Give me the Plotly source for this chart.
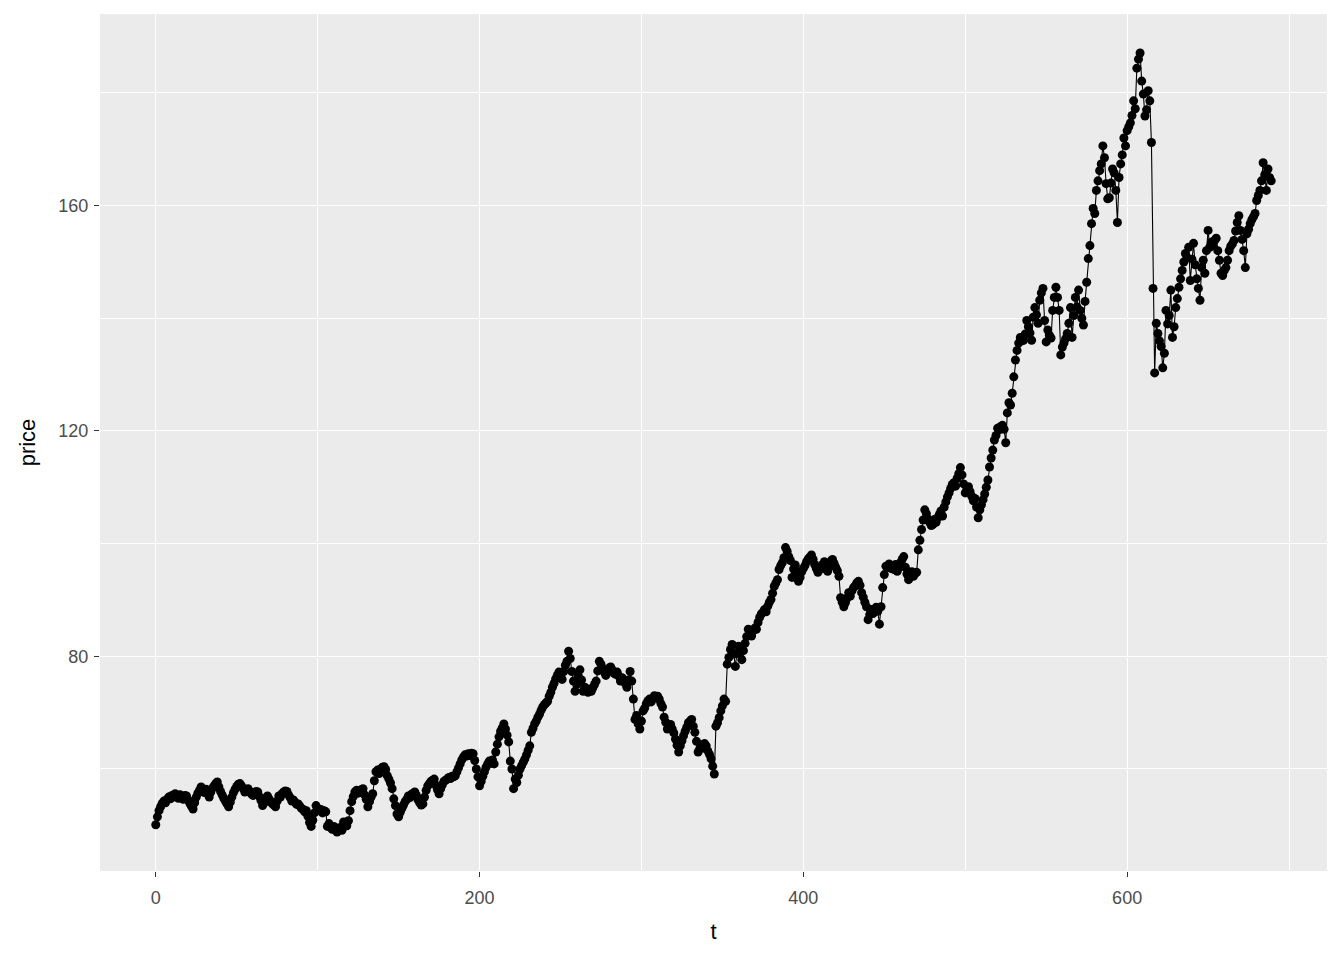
import plotly.graph_objects as go

# price series (one value per t = 0..689)
price = [
    50.1, 51.5, 52.6, 53.3, 53.9, 54.3, 54.0, 54.6, 55.0, 54.7,
    55.3, 55.0, 55.6, 55.2, 54.8, 55.4, 55.0, 54.6, 55.3, 55.2,
    54.5, 53.9, 53.4, 52.9, 54.0, 55.0, 55.7, 56.2, 56.8, 56.3,
    55.8, 56.4, 55.6, 55.0, 55.9, 56.6, 57.0, 57.4, 57.7, 56.8,
    56.0, 55.4, 54.8, 54.3, 53.8, 53.3, 54.1, 55.0, 55.8, 56.4,
    56.9, 57.3, 57.4, 57.0, 56.5, 55.9, 56.3, 56.5, 56.0, 55.6,
    55.3, 55.7, 56.0, 55.9, 55.1, 54.4, 53.5, 54.0, 54.8, 55.2,
    54.7, 54.2, 53.8, 53.6, 53.3, 54.3, 55.2, 55.0, 55.6, 55.9,
    56.1, 56.0, 55.4, 54.9, 54.3, 54.5, 54.1, 53.7, 53.8, 53.4,
    53.0, 52.8, 52.4, 52.6, 51.6, 50.5, 49.8, 50.9, 52.2, 53.5,
    53.0, 52.6, 52.8, 52.2, 52.6, 52.4, 49.8, 50.3, 49.6, 49.3,
    49.8, 49.1, 48.8, 49.3, 49.6, 49.1, 50.6, 50.2, 49.9, 50.8,
    52.6, 54.2, 55.1, 55.9, 56.2, 55.7, 56.0, 56.3, 56.5, 55.4,
    54.6, 53.3, 54.2, 55.0, 55.6, 57.9, 59.5, 59.8, 59.2, 60.0,
    60.3, 60.4, 59.9, 58.8, 58.2, 57.5, 56.5, 54.7, 53.5, 52.0,
    51.5, 52.3, 53.0, 53.6, 54.2, 54.6, 55.2, 54.9, 55.5, 55.7,
    55.9, 55.3, 54.5, 54.0, 53.6, 53.8, 55.0, 56.2, 57.0, 57.4,
    57.8, 58.0, 58.2, 57.1, 56.3, 55.6, 56.5, 57.2, 57.8, 58.0,
    58.2, 58.5, 58.3, 58.7, 58.6, 58.8, 59.5, 60.2, 60.9, 61.6,
    62.1, 62.5, 62.3, 62.7, 62.4, 62.8, 62.7, 61.5, 60.0, 58.6,
    57.0, 57.8, 58.7, 59.5, 60.3, 60.9, 61.4, 61.0, 61.6, 60.9,
    63.0, 64.4, 65.7, 66.7, 67.3, 68.0, 67.1, 66.0, 64.8, 61.4,
    60.0, 56.5, 58.2, 57.6, 58.9, 60.0, 60.6, 61.2, 61.8, 62.5,
    63.3, 64.1, 66.5, 67.2, 68.0, 68.5, 69.2, 69.7, 70.4, 71.0,
    71.4, 71.7, 72.0, 72.9, 73.6, 74.5, 75.2, 76.0, 76.6, 77.2,
    76.6, 75.9, 77.3, 78.4, 79.1, 80.9, 79.6, 77.3, 75.6, 73.8,
    75.0, 76.5, 77.6, 75.8, 73.8, 74.5, 74.0, 73.6, 74.2, 73.8,
    74.4, 75.0, 75.6, 77.4, 79.1, 78.6, 77.8, 77.2, 76.6, 77.5,
    77.9, 78.1, 77.6, 77.0, 76.8, 77.2, 76.5, 75.6, 76.2, 75.9,
    75.2, 74.5, 75.8, 77.3, 75.6, 72.4, 68.8, 69.5, 68.0, 67.1,
    68.5, 70.3, 70.8, 71.6, 72.1, 72.4, 71.9, 72.5, 73.0, 72.6,
    72.9, 72.4, 71.6, 71.0, 69.2, 68.3, 67.1, 67.6, 67.9, 67.1,
    66.4, 65.3, 64.2, 63.0, 64.1, 65.0, 65.9, 66.7, 67.4, 68.2,
    68.5, 68.8, 67.6, 66.5, 64.9, 63.0, 63.6, 64.3, 63.7, 64.5,
    64.1, 63.2, 62.6, 61.8, 60.5, 59.1, 67.6, 68.2, 69.1, 70.3,
    71.2, 72.4, 72.0, 78.6, 79.8, 81.2, 82.1, 80.4, 78.2, 80.5,
    81.8, 80.6, 79.4, 81.0, 82.3, 83.5, 84.8, 84.1, 83.6, 84.5,
    85.0, 84.8, 86.0, 86.9, 87.5, 87.8, 88.3, 87.9, 88.9, 89.6,
    90.1, 91.2, 92.4, 93.0, 93.6, 95.4, 96.1, 96.6, 97.5, 99.3,
    98.6, 97.7, 97.0, 94.0, 95.5, 96.2, 95.0, 93.3, 94.0, 95.0,
    95.6, 96.1, 96.8, 97.3, 97.6, 98.0, 97.2, 96.3, 95.6, 94.9,
    95.4, 96.0, 96.3, 96.8, 95.5, 95.1, 96.0, 96.9, 97.2, 96.5,
    95.8, 95.2, 94.2, 90.4, 89.6, 88.8, 89.5, 90.3, 91.3, 90.7,
    91.6, 92.2, 92.5, 93.0, 93.3, 92.6, 91.3, 90.5, 89.6, 88.8,
    86.5, 87.4, 88.3, 87.6, 88.2, 88.7, 88.0, 85.7, 88.8, 92.2,
    94.5, 96.0, 95.8, 96.4, 95.6, 96.0, 95.4, 96.3, 95.1, 95.8,
    96.6, 97.2, 97.7, 95.8, 94.6, 93.6, 94.3, 95.0, 94.2, 94.7,
    94.9, 98.9, 100.6, 102.5, 104.2, 106.0, 105.3, 104.4, 103.8, 103.2,
    103.4, 104.3, 103.8, 104.6, 105.2, 105.8, 104.9, 106.5, 107.4, 108.3,
    109.0, 109.8, 110.5, 110.8, 110.2, 111.6, 112.4, 113.5, 112.2, 110.6,
    109.0, 109.6, 110.1, 109.2, 108.4, 107.6, 108.0, 106.5, 104.6, 106.0,
    106.9, 107.8, 108.8, 110.0, 111.3, 113.6, 115.2, 116.6, 118.4, 119.2,
    120.5, 120.2, 120.8, 121.0, 120.3, 117.9, 123.2, 125.0, 124.6, 126.7,
    129.6, 132.6, 134.3, 135.6, 136.6, 136.0, 136.1, 137.2, 139.6, 138.5,
    137.4, 136.1, 140.2, 141.9, 140.6, 139.1, 143.2, 144.5, 145.3, 139.6,
    135.8, 137.9, 137.0, 136.5, 141.4, 143.7, 145.5, 143.7, 141.4, 133.5,
    134.9, 135.6, 136.4, 137.3, 139.1, 141.9, 136.6, 140.5, 143.7, 142.0,
    145.0, 141.4, 140.0, 138.8, 143.0, 146.4, 150.6, 152.9, 156.8, 159.5,
    158.6, 162.7, 164.4, 166.2, 167.4, 170.6, 168.5, 163.9, 161.2, 161.4,
    164.0, 166.5, 165.8, 162.7, 157.0, 165.0, 167.4, 169.0, 172.0, 170.6,
    173.3, 174.0, 174.7, 176.0, 178.6, 177.2, 184.4, 186.0, 187.1, 182.1,
    179.8, 175.9, 177.0, 180.4, 178.6, 171.2, 145.3, 130.3, 139.1, 137.3,
    136.0, 135.0, 131.2, 133.8, 141.4, 139.0, 140.5, 145.0, 136.6, 138.5,
    141.9, 143.5, 145.5, 147.0, 148.5, 150.0, 151.5, 150.8, 152.6, 146.7,
    150.5, 153.3, 149.5, 147.0, 145.3, 143.2, 149.0, 150.3, 148.0, 152.0,
    155.6, 152.6, 153.5, 152.9, 153.8, 154.2, 152.0, 150.3, 148.0, 147.6,
    148.5, 149.0, 150.3, 152.0, 152.8, 153.2, 153.8, 155.5, 157.0, 158.2,
    155.6, 154.0, 152.0, 149.0, 155.0, 155.8, 156.8, 157.5, 158.0, 158.6,
    160.9, 161.8, 162.7, 164.4, 167.6, 165.5, 162.7, 166.5, 165.0, 164.4,
]
t = list(range(len(price)))

fig = go.Figure()
fig.add_trace(go.Scatter(
    x=t, y=price,
    mode="lines+markers",
    line=dict(color="black", width=1.1),
    marker=dict(color="black", size=9),
    showlegend=False,
))

# ggplot-like range expansion (5% each side)
def expand(lo, hi):
    pad = (hi - lo) * 0.05
    return [lo - pad, hi + pad]

axis_common = dict(
    showgrid=True, gridcolor="white", gridwidth=1.1,
    zeroline=False, showline=False,
    ticks="outside", ticklen=5, tickcolor="#333333", tickwidth=1,
    tickfont=dict(family="Liberation Sans, Arial", size=18, color="#4D4D4D"),
    title_font=dict(family="Liberation Sans, Arial", size=22, color="black"),
)

fig.update_xaxes(
    range=expand(min(t), max(t)), tick0=0, dtick=200,
    minor=dict(dtick=100, tick0=0, showgrid=True, gridcolor="white", gridwidth=0.55),
    ticklabelstandoff=5,
    title_text="t", title_standoff=17, **axis_common,
)
fig.update_yaxes(
    range=expand(min(price), max(price)), tick0=0, dtick=40,
    minor=dict(dtick=20, tick0=0, showgrid=True, gridcolor="white", gridwidth=0.55),
    ticklabelstandoff=2,
    title_text="price", title_standoff=16, **axis_common,
)

fig.update_layout(
    width=1344, height=960,
    plot_bgcolor="#EBEBEB", paper_bgcolor="white",
    margin=dict(l=92, r=25, t=6, b=97),
)

fig.write_html("out.html")
